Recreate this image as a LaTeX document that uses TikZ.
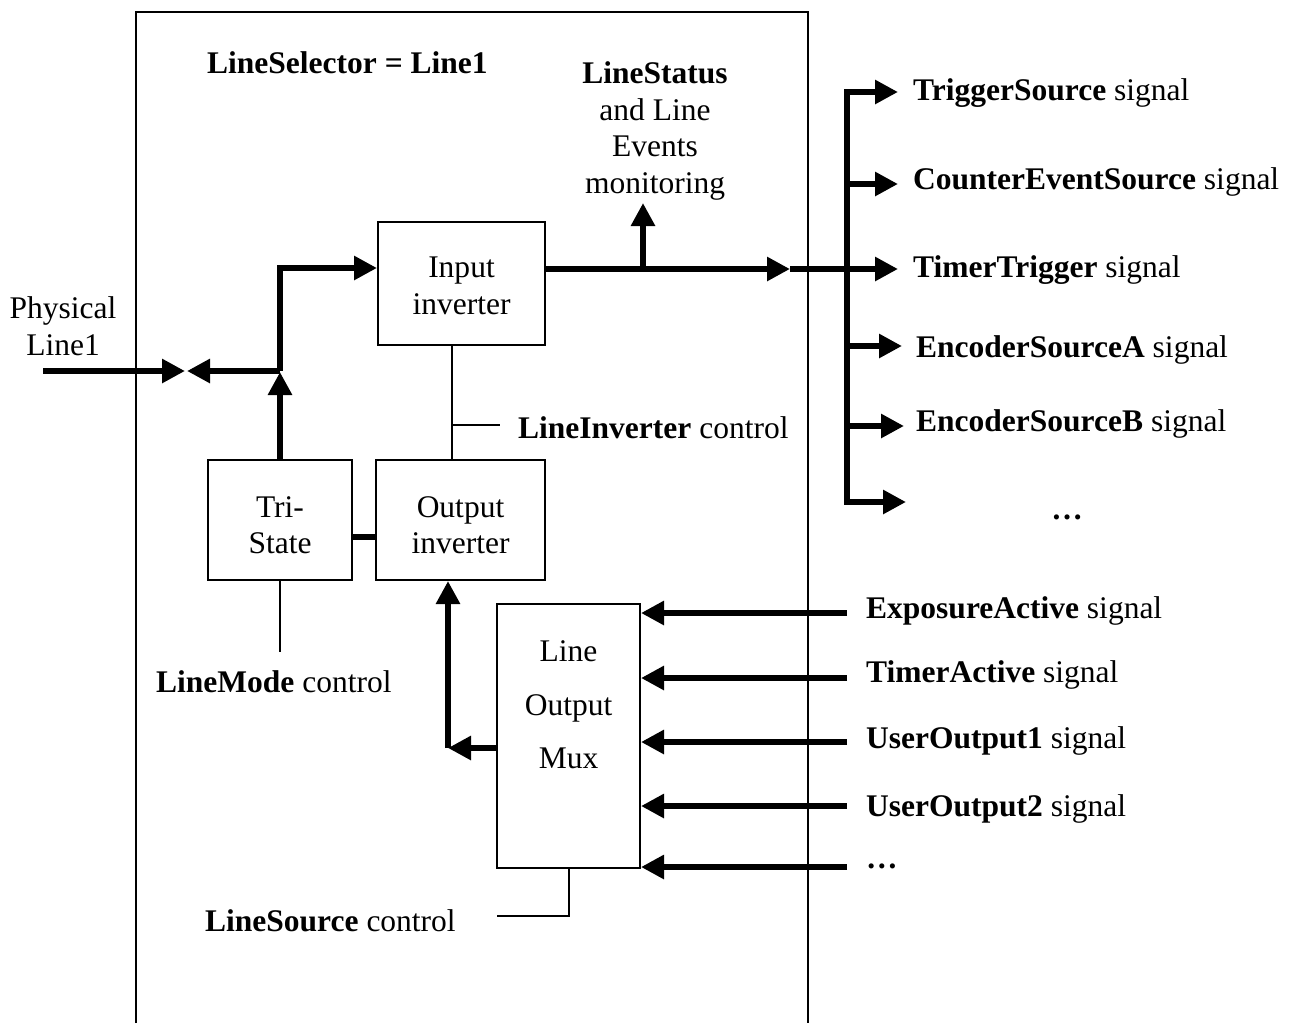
\documentclass[tikz,border=0pt]{standalone}
\usepackage{fontspec}
\setmainfont{Liberation Serif}
\usetikzlibrary{arrows.meta}
\begin{document}
\begin{tikzpicture}[x=1pt,y=-1pt,
  box/.style={draw, line width=2pt, inner sep=0pt, align=center},
  thinl/.style={line width=2pt},
  busl/.style={line width=6.5pt},
  arr/.style={line width=6.5pt, -{Triangle[length=23pt,width=23pt]}},
  lbl/.style={anchor=west, inner sep=0pt},
  ctr/.style={inner sep=0pt, align=center},
  every node/.style={font=\fontsize{31.5}{36.5}\selectfont}]
\useasboundingbox (0,0) rectangle (1289,1023);
% outer frame
\draw[thinl] (136,1023) -- (136,12) -- (808,12) -- (808,1023);
% boxes
\node[box, minimum width=167pt, minimum height=123pt] (inp) at (461.5,283.5) {};
\node[ctr] (inpt) at (461.5,286) {Input\\inverter};
\node[box, minimum width=144pt, minimum height=120pt] (tri) at (280,520) {};
\node[ctr] (trit) at (280,525) {Tri-\\State};
\node[box, minimum width=169pt, minimum height=120pt] (outi) at (460.5,520) {};
\node[ctr] (outit) at (460.5,525) {Output\\inverter};
\node[box, minimum width=143pt, minimum height=264pt] (mux) at (568.5,736) {};
\node[ctr, font=\fontsize{31.5}{53.5}\selectfont] (muxt) at (568.5,705) {Line\\Output\\Mux};
% texts
\node[lbl] (sel) at (207,63) {\textbf{LineSelector = Line1}};
\node[ctr] (phys) at (63,326) {Physical\\Line1};
\node[ctr] (stat) at (655,131) {\textbf{LineStatus}\\and Line\\Events\\monitoring};
\node[lbl] (invc) at (518,428) {\textbf{LineInverter} control};
\node[lbl] (modc) at (156,682) {\textbf{LineMode} control};
\node[lbl] (srcc) at (205,921) {\textbf{LineSource} control};
% output labels
\node[lbl] (o1) at (913,93) {\textbf{TriggerSource} signal};
\node[lbl] (o2) at (913,182) {\textbf{CounterEventSource} signal};
\node[lbl] (o3) at (913,270) {\textbf{TimerTrigger} signal};
\node[lbl] (o4) at (916,350) {\textbf{EncoderSourceA} signal};
\node[lbl] (o5) at (916,424) {\textbf{EncoderSourceB} signal};
\node[ctr] (o6) at (1067,517) {\textbf{…}};
% input labels
\node[lbl] (i1) at (866,611) {\textbf{ExposureActive} signal};
\node[lbl] (i2) at (866,675) {\textbf{TimerActive} signal};
\node[lbl] (i3) at (866,741) {\textbf{UserOutput1} signal};
\node[lbl] (i4) at (866,809) {\textbf{UserOutput2} signal};
\node[lbl] (i5) at (866,866) {\textbf{…}};
% coordinates
\coordinate (pin) at (43,371);
\coordinate (ptip) at (185,371);
\coordinate (ltip) at (187,371);
\coordinate (j) at (280,371);
\coordinate (jt) at (280,268);
\coordinate (mid) at (790,269);
\coordinate (up) at (643,269);
\coordinate (uptip) at (643,203);
\coordinate (mc) at (448,748);
\coordinate (bt) at (847,92);
\coordinate (bb) at (847,502);
% physical line
\draw[arr] (pin) -- (ptip);
\draw[arr] (j) -- (ltip);
\draw[arr] (tri.north) -- (280,372);
\draw[arr] (j) -- (jt) -- (inp.west |- jt);
% input inverter output
\draw[arr] (inp.east |- mid) -- (mid);
\draw[arr] (mid) -- (898,269);
\draw[arr] (up) -- (uptip);
% bus
\draw[arr] (bb) -- (bt) -- (898,92);
\draw[arr] (bt) -- (bb) -- (906,502);
\draw[arr] (847,184) -- (898,184);
\draw[arr] (847,346) -- (902,346);
\draw[arr] (847,426) -- (904,426);
% control lines
\draw[thinl] (inp.south -| 452,0) -- (outi.north -| 452,0);
\draw[thinl] (452,425) -- (500,425);
\draw[thinl] (tri.south) -- (280,652);
\draw[busl] (tri.east |- 0,537) -- (outi.west |- 0,537);
\draw[thinl] (mux.south) -- (568.5,916) -- (497,916);
% mux output
\draw[arr] (mux.west |- mc) -- (mc);
\draw[arr] (mc) -- (outi.south -| mc);
% mux inputs
\draw[arr] (847,613) -- (mux.east |- 0,613);
\draw[arr] (847,678) -- (mux.east |- 0,678);
\draw[arr] (847,742) -- (mux.east |- 0,742);
\draw[arr] (847,806) -- (mux.east |- 0,806);
\draw[arr] (847,867) -- (mux.east |- 0,867);
\end{tikzpicture}
\end{document}
